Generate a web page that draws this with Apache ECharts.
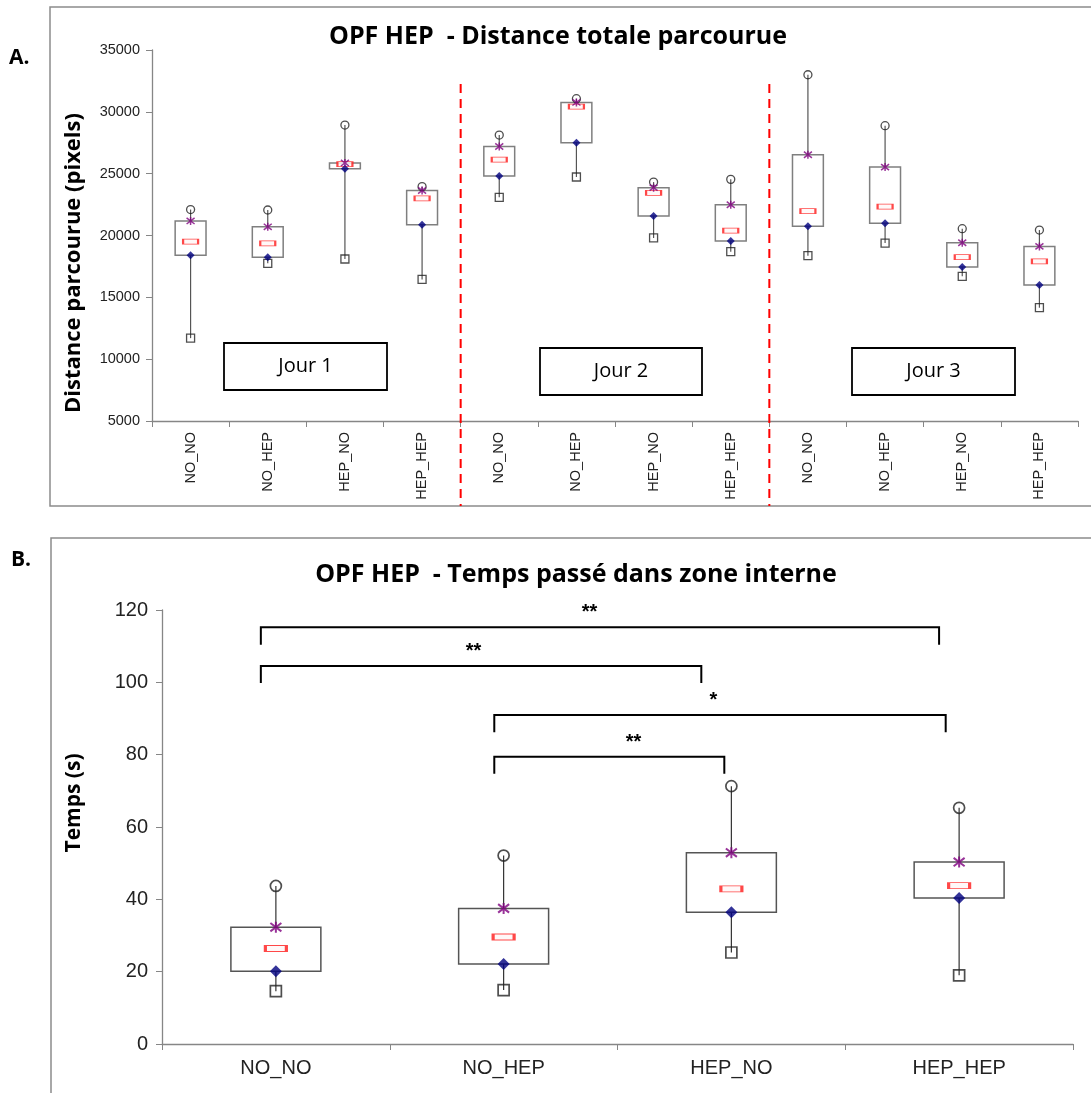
<!DOCTYPE html>
<html>
<head>
<meta charset="utf-8">
<script src="https://cdn.jsdelivr.net/npm/echarts@6/dist/echarts.min.js"></script>
<style>html,body{margin:0;padding:0;background:#fff;}#c{width:1091px;height:1093px;}</style>
</head>
<body>
<div id="c"></div>
<script>
// ---------- Panel A data ----------
const catsA = ['NO_NO','NO_HEP','HEP_NO','HEP_HEP','NO_NO','NO_HEP','HEP_NO','HEP_HEP','NO_NO','NO_HEP','HEP_NO','HEP_HEP'];
const minA = [11700, 17750, 18100, 16450, 23090, 24730, 19800, 18690, 18370, 19390, 16700, 14160];
const q1A  = [18400, 18250, 25400, 20870, 24820, 27500, 21580, 19550, 20750, 21000, 17460, 15990];
const medA = [19500, 19370, 25780, 23000, 26130, 30420, 23440, 20390, 21980, 22330, 18260, 17910];
const q3A  = [21180, 20700, 25870, 23640, 27200, 30760, 23870, 22490, 26530, 25530, 19410, 19120];
const maxA = [22100, 22060, 28930, 23950, 28120, 31060, 24320, 24540, 33000, 28880, 20550, 20440];
const dayLabels = ['Jour 1', 'Jour 2', 'Jour 3'];
const daySeparators = [3.5, 7.5];

// ---------- Panel B data ----------
const catsB = ['NO_NO','NO_HEP','HEP_NO','HEP_HEP'];
const minB = [14.6, 14.9, 25.3, 19.0];
const q1B  = [20.1, 22.1, 36.4, 40.4];
const medB = [26.4, 29.6, 42.9, 43.8];
const q3B  = [32.3, 37.5, 52.9, 50.3];
const maxB = [43.7, 52.1, 71.3, 65.3];
// significance brackets (x in category units, 0..4)
const brFrom = [0.434, 0.434, 1.459, 1.459];
const brTo   = [3.412, 2.368, 3.441, 2.469];
const brY    = [115.2, 104.5, 91.0, 79.4];
const brDrop = [4.8, 4.7, 4.8, 4.7];
const sigText = ['**', '**', '*', '**'];
const sigX = [1.877, 1.368, 2.421, 2.07];
const sigY = [119.2, 108.4, 95.0, 83.5];

const chart = echarts.init(document.getElementById('c'), null, {renderer: 'canvas'});

function boxRender(widthFrac, boxColor, boxW, whColor) {
  return function (params, api) {
    const i = api.value(0);
    const pMin = api.coord([i, api.value(1)]);
    const pQ1 = api.coord([i, api.value(2)]);
    const pQ3 = api.coord([i, api.value(3)]);
    const pMax = api.coord([i, api.value(4)]);
    const w = api.size([1, 0])[0] * widthFrac;
    return {
      type: 'group',
      children: [
        {type: 'line', shape: {x1: pMin[0], y1: pMin[1], x2: pMax[0], y2: pMax[1]},
         style: {stroke: whColor, lineWidth: 1.2}},
        {type: 'rect', shape: {x: pQ3[0] - w / 2, y: pQ3[1], width: w, height: pQ1[1] - pQ3[1]},
         style: {fill: '#fff', stroke: boxColor, lineWidth: boxW}}
      ]
    };
  };
}

const starPath = 'path://M-1,-1L1,1M-1,1L1,-1M0,-1.3L0,1.3';

function markerSeries(xi, yi, mins, q1s, meds, q3s, maxs, s) {
  const pts = a => a.map((v, i) => [i, v]);
  return [
    {type: 'scatter', xAxisIndex: xi, yAxisIndex: yi, data: pts(maxs), symbol: 'circle', symbolSize: s.circ,
     itemStyle: {color: 'rgba(255,255,255,0)', borderColor: '#222', borderWidth: s.bw}, z: 5, silent: true},
    {type: 'scatter', xAxisIndex: xi, yAxisIndex: yi, data: pts(mins), symbol: 'rect', symbolSize: s.sq,
     itemStyle: {color: 'rgba(255,255,255,0)', borderColor: '#222', borderWidth: s.bw}, z: 5, silent: true},
    {type: 'scatter', xAxisIndex: xi, yAxisIndex: yi, data: pts(meds), symbol: 'rect', symbolSize: s.med,
     itemStyle: {color: '#fff6f6', borderColor: '#ff1a1a', borderWidth: s.bw}, z: 6, silent: true},
    {type: 'scatter', xAxisIndex: xi, yAxisIndex: yi, data: pts(q1s), symbol: 'diamond', symbolSize: s.dia,
     itemStyle: {color: '#000080'}, z: 7, silent: true},
    {type: 'scatter', xAxisIndex: xi, yAxisIndex: yi, data: pts(q3s), symbol: starPath, symbolSize: s.star,
     itemStyle: {color: 'rgba(0,0,0,0)', borderColor: '#800080', borderWidth: s.starW}, z: 8, silent: true}
  ];
}

const axisLineStyle = {lineStyle: {color: '#868686', width: 1.3}};
const tickFont = 'Liberation Sans, Arial, sans-serif';
const headFont = 'Open Sans';

const option = {
  animation: false,
  backgroundColor: '#fff',
  title: [
    {text: 'OPF HEP  - Distance totale parcourue', left: 553, top: 19, textAlign: 'center',
     textStyle: {fontFamily: headFont, fontWeight: 'bold', fontSize: 25, color: '#000'}},
    {text: 'OPF HEP  - Temps passé dans zone interne', left: 571, top: 557, textAlign: 'center',
     textStyle: {fontFamily: headFont, fontWeight: 'bold', fontSize: 25, color: '#000'}}
  ],
  grid: [
    {left: 152, top: 50, right: 13, height: 371},
    {left: 162, top: 610, right: 18, height: 434}
  ],
  xAxis: [
    {type: 'category', gridIndex: 0, data: catsA, boundaryGap: true,
     axisLine: axisLineStyle, axisTick: {show: true, length: 6, interval: 0, lineStyle: {color: '#868686'}},
     axisLabel: {rotate: 90, interval: 0, fontSize: 14.5, color: '#222', fontFamily: tickFont, margin: 11},
     splitLine: {show: false}},
    {type: 'value', gridIndex: 0, min: -0.5, max: 11.5, show: false},
    {type: 'category', gridIndex: 1, data: catsB, boundaryGap: true,
     axisLine: axisLineStyle, axisTick: {show: true, length: 6, interval: 0, lineStyle: {color: '#868686'}},
     axisLabel: {interval: 0, fontSize: 20, color: '#222', fontFamily: tickFont, margin: 14},
     splitLine: {show: false}},
    {type: 'value', gridIndex: 1, min: 0, max: 4, show: false}
  ],
  yAxis: [
    {type: 'value', gridIndex: 0, min: 5000, max: 35000, interval: 5000,
     axisLine: {show: true, onZero: false, lineStyle: {color: '#868686', width: 1.3}},
     axisTick: {show: true, length: 6, lineStyle: {color: '#868686'}},
     axisLabel: {fontSize: 14.5, color: '#222', fontFamily: tickFont, margin: 12, formatter: v => String(v)},
     splitLine: {show: false}},
    {type: 'value', gridIndex: 1, min: 0, max: 120, interval: 20,
     axisLine: {show: true, onZero: false, lineStyle: {color: '#868686', width: 1.3}},
     axisTick: {show: true, length: 6, lineStyle: {color: '#868686'}},
     axisLabel: {fontSize: 20, color: '#222', fontFamily: tickFont, margin: 14, formatter: v => String(v)},
     splitLine: {show: false}}
  ],
  graphic: [
    {type: 'rect', shape: {x: 50, y: 7, width: 1060, height: 499}, style: {fill: 'none', stroke: '#8c8c8c', lineWidth: 1.5}, z: -10},
    {type: 'rect', shape: {x: 51, y: 538, width: 1060, height: 600}, style: {fill: 'none', stroke: '#8c8c8c', lineWidth: 1.5}, z: -10},
    {type: 'text', x: 9, y: 58, style: {text: 'A.', font: 'bold 21px Open Sans', fill: '#000', verticalAlign: 'middle'}},
    {type: 'text', x: 11, y: 560, style: {text: 'B.', font: 'bold 21px Open Sans', fill: '#000', verticalAlign: 'middle'}},
    {type: 'text', x: 74, y: 263, rotation: Math.PI / 2,
     style: {text: 'Distance parcourue (pixels)', font: 'bold 22px Open Sans', fill: '#000', align: 'center', verticalAlign: 'middle'}},
    {type: 'text', x: 74, y: 803, rotation: Math.PI / 2,
     style: {text: 'Temps (s)', font: 'bold 21px Open Sans', fill: '#000', align: 'center', verticalAlign: 'middle'}},
    {type: 'group', x: 224, y: 343, children: [
      {type: 'rect', shape: {x: 0, y: 0, width: 163, height: 47}, style: {fill: '#fff', stroke: '#000', lineWidth: 1.8}},
      {type: 'text', x: 81.5, y: 23.5, style: {text: dayLabels[0], font: '20px Open Sans', fill: '#000', align: 'center', verticalAlign: 'middle'}}
    ]},
    {type: 'group', x: 540, y: 348, children: [
      {type: 'rect', shape: {x: 0, y: 0, width: 162, height: 47}, style: {fill: '#fff', stroke: '#000', lineWidth: 1.8}},
      {type: 'text', x: 81, y: 23.5, style: {text: dayLabels[1], font: '20px Open Sans', fill: '#000', align: 'center', verticalAlign: 'middle'}}
    ]},
    {type: 'group', x: 852, y: 348, children: [
      {type: 'rect', shape: {x: 0, y: 0, width: 163, height: 47}, style: {fill: '#fff', stroke: '#000', lineWidth: 1.8}},
      {type: 'text', x: 81.5, y: 23.5, style: {text: dayLabels[2], font: '20px Open Sans', fill: '#000', align: 'center', verticalAlign: 'middle'}}
    ]}
  ],
  series: [
    {type: 'custom', xAxisIndex: 0, yAxisIndex: 0, clip: false, z: 2,
     renderItem: boxRender(0.4, '#7f7f7f', 1.5, '#555'),
     encode: {x: 0, y: [1, 2, 3, 4]},
     data: catsA.map((c, i) => [i, minA[i], q1A[i], q3A[i], maxA[i]])},
    ...markerSeries(0, 0, minA, q1A, medA, q3A, maxA, {circ: 8, sq: 8, med: [15, 5], dia: 8, star: 8, bw: 1.3, starW: 1.5}),
    {type: 'custom', xAxisIndex: 1, yAxisIndex: 0, clip: false, z: 1,
     renderItem: function (params, api) {
       const top = api.coord([api.value(0), 32250]);
       const base = api.coord([api.value(0), 5000]);
       return {type: 'line', shape: {x1: top[0], y1: top[1], x2: top[0], y2: base[1] + 85},
               style: {stroke: '#ff0000', lineWidth: 2, lineDash: [9, 6]}};
     },
     data: daySeparators.map(v => [v])},
    {type: 'custom', xAxisIndex: 2, yAxisIndex: 1, clip: false, z: 2,
     renderItem: boxRender(0.395, '#555', 1.5, '#333'),
     encode: {x: 0, y: [1, 2, 3, 4]},
     data: catsB.map((c, i) => [i, minB[i], q1B[i], q3B[i], maxB[i]])},
    ...markerSeries(2, 1, minB, q1B, medB, q3B, maxB, {circ: 11, sq: 11, med: [21, 6], dia: 12, star: 11, bw: 1.7, starW: 2}),
    {type: 'custom', xAxisIndex: 3, yAxisIndex: 1, clip: false, z: 3,
     renderItem: function (params, api) {
       const a = api.coord([api.value(0), api.value(2) - api.value(3)]);
       const b = api.coord([api.value(0), api.value(2)]);
       const c = api.coord([api.value(1), api.value(2)]);
       const d = api.coord([api.value(1), api.value(2) - api.value(3)]);
       return {type: 'polyline', shape: {points: [a, b, c, d]},
               style: {stroke: '#000', lineWidth: 2, fill: null}};
     },
     data: brFrom.map((f, i) => [f, brTo[i], brY[i], brDrop[i]])},
    {type: 'custom', xAxisIndex: 3, yAxisIndex: 1, clip: false, z: 3,
     renderItem: function (params, api) {
       const p = api.coord([api.value(0), api.value(1)]);
       return {type: 'text', x: p[0], y: p[1],
               style: {text: sigText[params.dataIndex], font: 'bold 20px Liberation Sans', fill: '#000', align: 'center', verticalAlign: 'middle'}};
     },
     data: sigX.map((x, i) => [x, sigY[i]])}
  ]
};
chart.setOption(option);
</script>
</body>
</html>
